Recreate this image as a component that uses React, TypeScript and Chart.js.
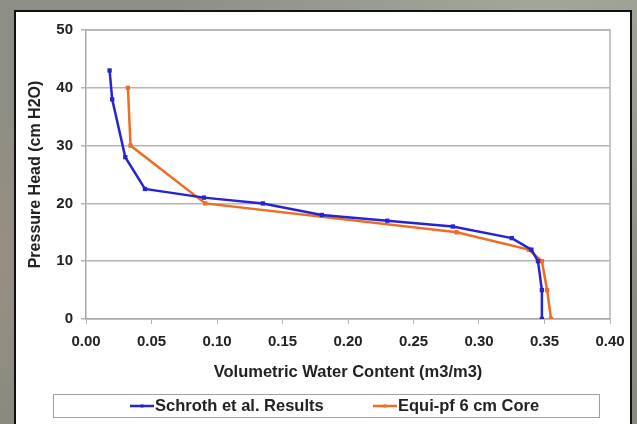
import React, { useEffect, useRef } from "react";
import { Chart, registerables } from "chart.js";

Chart.register(...registerables);

// ---- data ----
const schrothX = [0.018, 0.02, 0.03, 0.045, 0.09, 0.135, 0.18, 0.23, 0.28, 0.325, 0.34, 0.345, 0.348, 0.348];
const schrothY = [43, 38, 28, 22.5, 21, 20, 18, 17, 16, 14, 12, 10, 5, 0];
const equiX = [0.032, 0.034, 0.091, 0.283, 0.338, 0.348, 0.352, 0.355];
const equiY = [40, 30, 20, 15, 12, 10, 5, 0];
const seriesNames = ["Schroth et al. Results", "Equi-pf 6 cm Core"];
const xTitle = "Volumetric Water Content (m3/m3)";
const yTitle = "Pressure Head (cm H2O)";

const BLUE = "#2424d4";
const ORANGE = "#f06c22";
const FONT = "'Liberation Sans', Arial, sans-serif";

const frameAndLegend = {
  id: "frameAndLegend",
  afterDraw(chart: any) {
    const ctx = chart.ctx;
    const a = chart.chartArea;
    ctx.save();
    // plot area right & top border
    ctx.strokeStyle = "#b4b4b4";
    ctx.lineWidth = 1.5;
    ctx.beginPath();
    ctx.moveTo(a.left, a.top);
    ctx.lineTo(a.right, a.top);
    ctx.lineTo(a.right, a.bottom);
    ctx.stroke();

    // legend box
    const bx = a.left - 33;
    const by = a.bottom + 75;
    const bw = 546;
    const bh = 23;
    ctx.fillStyle = "#ffffff";
    ctx.fillRect(bx, by, bw, bh);
    ctx.strokeStyle = "#a0a0a0";
    ctx.lineWidth = 1;
    ctx.strokeRect(bx + 0.5, by + 0.5, bw, bh);

    const cy = by + bh / 2 + 0.5;
    const items = [
      { x: bx + 77, color: BLUE, text: seriesNames[0] },
      { x: bx + 320, color: ORANGE, text: seriesNames[1] },
    ];
    ctx.font = `bold 16.5px ${FONT}`;
    ctx.textBaseline = "middle";
    ctx.textAlign = "left";
    for (const it of items) {
      ctx.strokeStyle = it.color;
      ctx.lineWidth = 2.5;
      ctx.beginPath();
      ctx.moveTo(it.x, cy);
      ctx.lineTo(it.x + 24, cy);
      ctx.stroke();
      ctx.fillStyle = it.color;
      ctx.fillRect(it.x + 10.5, cy - 1.5, 3, 3);
      ctx.fillStyle = "#222222";
      ctx.fillText(it.text, it.x + 25, cy + 0.5);
    }
    ctx.restore();
  },
};

export default function App() {
  const ref = useRef<HTMLCanvasElement | null>(null);

  useEffect(() => {
    if (!ref.current) return;
    const chart = new Chart(ref.current, {
      type: "line",
      data: {
        datasets: [
          {
            label: seriesNames[0],
            data: schrothX.map((x, i) => ({ x, y: schrothY[i] })),
            borderColor: BLUE,
            backgroundColor: BLUE,
            borderWidth: 2.5,
            pointRadius: 1.3,
            pointStyle: "rect",
            tension: 0,
          },
          {
            label: seriesNames[1],
            data: equiX.map((x, i) => ({ x, y: equiY[i] })),
            borderColor: ORANGE,
            backgroundColor: ORANGE,
            borderWidth: 2.5,
            pointRadius: 1.3,
            pointStyle: "rect",
            tension: 0,
          },
        ],
      },
      plugins: [frameAndLegend],
      options: {
        responsive: false,
        animation: false,
        layout: { padding: { left: 14, top: 30, right: 27, bottom: 35 } },
        plugins: { legend: { display: false }, tooltip: { enabled: false } },
        scales: {
          x: {
            type: "linear",
            min: 0,
            max: 0.4,
            afterFit: (s: any) => {
              s.height = 70;
            },
            ticks: {
              stepSize: 0.05,
              padding: 9,
              color: "#222222",
              font: { family: FONT, size: 15, weight: "bold" },
              callback: (v: any) => Number(v).toFixed(2),
              maxRotation: 0,
            },
            grid: {
              drawOnChartArea: false,
              drawTicks: true,
              tickLength: 5,
              color: "#b4b4b4",
            },
            border: { color: "#a8a8a8", width: 1.5 },
            title: {
              display: true,
              text: xTitle,
              color: "#222222",
              font: { family: FONT, size: 16.5, weight: "bold" },
              padding: { top: 0, bottom: 7 },
            },
          },
          y: {
            type: "linear",
            min: 0,
            max: 50,
            afterFit: (s: any) => {
              s.width = 72;
            },
            ticks: {
              stepSize: 10,
              padding: 8,
              color: "#222222",
              font: { family: FONT, size: 15, weight: "bold" },
            },
            grid: {
              color: "#b4b4b4",
              lineWidth: 1.5,
              drawTicks: true,
              tickLength: 5,
            },
            border: { color: "#a8a8a8", width: 1.5 },
            title: {
              display: true,
              text: yTitle,
              color: "#222222",
              font: { family: FONT, size: 16, weight: "bold" },
              padding: { top: 12, bottom: 0 },
            },
          },
        },
      },
    });
    return () => chart.destroy();
  }, []);

  return (
    <div
      style={{
        position: "fixed",
        left: 0,
        top: 0,
        width: 637,
        height: 424,
        overflow: "hidden",
        background:
          "radial-gradient(ellipse at 10% 60%, #9a8f84 0%, rgba(154,143,132,0) 45%), radial-gradient(ellipse at 85% 5%, #a3a79b 0%, rgba(163,167,155,0) 50%), linear-gradient(180deg, #8d8f86 0%, #8a8a80 100%)",
      }}
    >
      <div
        style={{
          position: "absolute",
          left: 14,
          top: 10,
          width: 618,
          height: 440,
          boxSizing: "border-box",
          border: "2px solid #111111",
          background: "#ffffff",
        }}
      />
      <canvas
        ref={ref}
        width={637}
        height={424}
        style={{ position: "absolute", left: 0, top: 0, width: 637, height: 424 }}
      />
    </div>
  );
}
